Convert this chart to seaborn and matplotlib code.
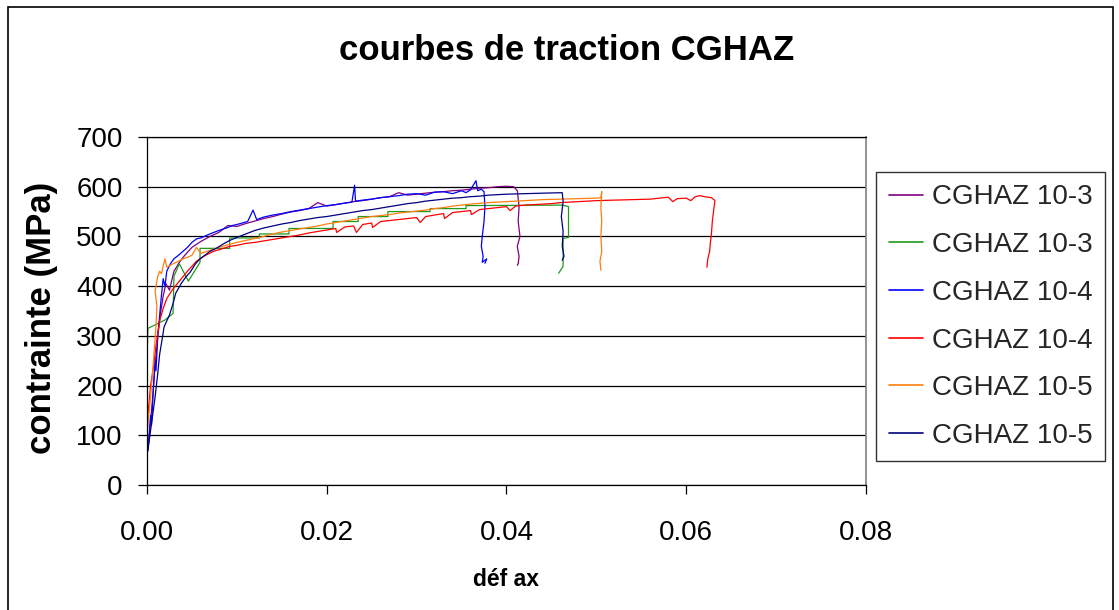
import matplotlib
matplotlib.use("Agg")
import matplotlib.pyplot as plt
import seaborn as sns
from matplotlib.patches import Rectangle

# ---- data: axial strain (-) vs stress (MPa) for each tensile test ----
labels = ["CGHAZ 10-3", "CGHAZ 10-3", "CGHAZ 10-4", "CGHAZ 10-4", "CGHAZ 10-5", "CGHAZ 10-5"]
colors = ["#800080", "#1f9a1f", "#0000ff", "#ff0000", "#ff7f0e", "#000080"]

strain_a = [0.0001, 0.0003, 0.0006, 0.0009, 0.0012, 0.0015, 0.0018, 0.0021, 0.0025, 0.0030,
            0.0036, 0.0042, 0.0050, 0.0060, 0.0070, 0.0080, 0.0090, 0.0100, 0.0110, 0.0120,
            0.0130, 0.0140, 0.0150, 0.0160, 0.0170, 0.0180, 0.0190, 0.0200, 0.0210, 0.0220,
            0.0230, 0.0240, 0.0250, 0.0260, 0.0270, 0.0280, 0.0290, 0.0300, 0.0310, 0.0320,
            0.0330, 0.0340, 0.0350, 0.0360, 0.0370, 0.0380, 0.0390, 0.0400, 0.0408, 0.0412,
            0.0414, 0.0413, 0.0415, 0.0412, 0.0414, 0.0413, 0.0412]
stress_a = [75, 110, 170, 240, 300, 345, 380, 405, 392, 430,
            448, 462, 478, 490, 500, 508, 522, 520, 526, 531,
            536, 540, 545, 549, 552, 556, 568, 561, 564, 567,
            570, 572, 575, 578, 580, 588, 583, 585, 587, 589,
            590, 592, 593, 595, 597, 598, 600, 601, 600, 592,
            560, 530, 500, 480, 460, 445, 442]

strain_b = [0.0000, 0.0000, 0.0001, 0.0020, 0.0029, 0.0030, 0.0036, 0.0046, 0.0059, 0.0059,
            0.0092, 0.0092, 0.0125, 0.0125, 0.0158, 0.0158, 0.0207, 0.0207, 0.0235, 0.0235,
            0.0268, 0.0268, 0.0315, 0.0315, 0.0355, 0.0355, 0.0462, 0.0469, 0.0469, 0.0463,
            0.0463, 0.0458]
stress_b = [130, 250, 315, 332, 345, 420, 445, 410, 448, 476,
            476, 497, 497, 505, 505, 516, 516, 530, 530, 540,
            540, 550, 550, 556, 556, 562, 563, 560, 498, 496,
            440, 426]

strain_c = [0.0001, 0.0002, 0.0004, 0.0005, 0.0007, 0.0009, 0.0010, 0.0012, 0.0014, 0.0016,
            0.0018, 0.0020, 0.0022, 0.0026, 0.0030, 0.0035, 0.0040, 0.0045, 0.0050, 0.0055,
            0.0060, 0.0070, 0.0080, 0.0090, 0.0095, 0.0100, 0.0112, 0.0118, 0.0122, 0.0130,
            0.0140, 0.0150, 0.0160, 0.0170, 0.0180, 0.0190, 0.0200, 0.0210, 0.0220, 0.0228,
            0.0231, 0.0232, 0.0240, 0.0250, 0.0260, 0.0270, 0.0280, 0.0290, 0.0300, 0.0310,
            0.0320, 0.0330, 0.0340, 0.0350, 0.0355, 0.0360, 0.0366, 0.0368, 0.0372, 0.0375,
            0.0376, 0.0375, 0.0373, 0.0372, 0.0374, 0.0373, 0.0378, 0.0376]
stress_c = [68, 90, 140, 120, 190, 250, 230, 300, 340, 380,
            415, 400, 430, 445, 455, 462, 470, 478, 488, 495,
            497, 505, 512, 518, 522, 524, 530, 553, 534, 539,
            543, 546, 550, 553, 556, 559, 562, 564, 567, 569,
            603, 571, 573, 575, 578, 580, 582, 585, 586, 583,
            589, 590, 586, 592, 588, 594, 612, 592, 595, 590,
            560, 530, 500, 480, 460, 448, 455, 446]

strain_d = [0.0000, 0.0002, 0.0004, 0.0007, 0.0010, 0.0014, 0.0018, 0.0022, 0.0028, 0.0036,
            0.0045, 0.0055, 0.0065, 0.0074, 0.0085, 0.0092, 0.0100, 0.0110, 0.0120, 0.0130,
            0.0140, 0.0150, 0.0160, 0.0170, 0.0180, 0.0190, 0.0200, 0.0210, 0.0211, 0.0220,
            0.0230, 0.0233, 0.0240, 0.0250, 0.0251, 0.0260, 0.0270, 0.0280, 0.0290, 0.0300,
            0.0304, 0.0310, 0.0320, 0.0330, 0.0331, 0.0340, 0.0350, 0.0360, 0.0361, 0.0370,
            0.0380, 0.0390, 0.0400, 0.0404, 0.0410, 0.0420, 0.0430, 0.0440, 0.0450, 0.0460,
            0.0470, 0.0480, 0.0490, 0.0500, 0.0520, 0.0540, 0.0560, 0.0580, 0.0585, 0.0590,
            0.0600, 0.0605, 0.0610, 0.0615, 0.0620, 0.0628, 0.0632, 0.0631, 0.0629, 0.0628,
            0.0627, 0.0626, 0.0624, 0.0623]
stress_d = [120, 160, 200, 235, 280, 330, 355, 375, 392, 410,
            430, 450, 462, 470, 476, 480, 482, 486, 488, 491,
            494, 497, 500, 503, 507, 510, 513, 516, 508, 519,
            521, 508, 524, 527, 518, 530, 532, 534, 536, 538,
            528, 540, 543, 546, 536, 548, 550, 552, 544, 554,
            556, 558, 560, 552, 561, 563, 564, 565, 566, 568,
            569, 570, 571, 572, 573, 574, 575, 579, 570, 576,
            577, 572, 580, 582, 580, 578, 572, 560, 530, 505,
            490, 470, 455, 438]

strain_e = [0.0000, 0.0002, 0.0004, 0.0006, 0.0008, 0.0010, 0.0011, 0.0009, 0.0012, 0.0014,
            0.0016, 0.0018, 0.0020, 0.0022, 0.0026, 0.0030, 0.0035, 0.0040, 0.0045, 0.0050,
            0.0055, 0.0060, 0.0070, 0.0080, 0.0090, 0.0100, 0.0110, 0.0120, 0.0130, 0.0140,
            0.0150, 0.0160, 0.0170, 0.0180, 0.0190, 0.0200, 0.0210, 0.0220, 0.0230, 0.0240,
            0.0250, 0.0260, 0.0270, 0.0280, 0.0290, 0.0300, 0.0310, 0.0320, 0.0330, 0.0340,
            0.0350, 0.0360, 0.0380, 0.0400, 0.0420, 0.0440, 0.0460, 0.0480, 0.0500, 0.0505,
            0.0506, 0.0505, 0.0506, 0.0505, 0.0506, 0.0504, 0.0505]
stress_e = [100, 140, 180, 220, 270, 320, 360, 390, 420, 430,
            425, 440, 455, 438, 442, 446, 450, 455, 458, 462,
            478, 466, 472, 478, 483, 488, 492, 496, 500, 505,
            509, 512, 515, 518, 521, 525, 528, 531, 534, 537,
            540, 542, 544, 547, 549, 551, 553, 556, 558, 561,
            563, 565, 568, 570, 572, 574, 575, 576, 577, 578,
            590, 560, 530, 500, 470, 450, 432]

strain_f = [0.0001, 0.0004, 0.0007, 0.0009, 0.0012, 0.0014, 0.0017, 0.0019, 0.0022, 0.0025,
            0.0029, 0.0032, 0.0038, 0.0043, 0.0048, 0.0054, 0.0059, 0.0065, 0.0070, 0.0077,
            0.0085, 0.0092, 0.0100, 0.0110, 0.0120, 0.0130, 0.0140, 0.0150, 0.0160, 0.0170,
            0.0180, 0.0190, 0.0200, 0.0210, 0.0220, 0.0230, 0.0240, 0.0250, 0.0260, 0.0270,
            0.0280, 0.0290, 0.0300, 0.0310, 0.0320, 0.0330, 0.0340, 0.0350, 0.0360, 0.0370,
            0.0380, 0.0390, 0.0400, 0.0420, 0.0440, 0.0462, 0.0463, 0.0461, 0.0463, 0.0462,
            0.0464, 0.0462]
stress_f = [70, 110, 150, 177, 225, 262, 295, 318, 330, 342,
            365, 386, 405, 418, 428, 445, 455, 463, 470, 476,
            485, 492, 498, 505, 512, 517, 521, 525, 528, 532,
            535, 538, 540, 543, 546, 549, 552, 554, 557, 560,
            563, 566, 568, 571, 573, 575, 577, 578, 580, 581,
            583, 584, 585, 586, 587, 588, 570, 540, 510, 480,
            460, 452]

series = [(strain_a, stress_a), (strain_b, stress_b), (strain_c, stress_c),
          (strain_d, stress_d), (strain_e, stress_e), (strain_f, stress_f)]

x_ticks = [0.00, 0.02, 0.04, 0.06, 0.08]
y_ticks = [0, 100, 200, 300, 400, 500, 600, 700]

# ---- figure ----
sns.set_theme(style="white")
plt.rcParams["font.family"] = ["Liberation Sans", "DejaVu Sans"]

W, H = 1119, 610
fig = plt.figure(figsize=(W / 100, H / 100), dpi=100)
fig.patch.set_facecolor("white")
ax = fig.add_axes([147 / W, 1 - 485 / H, (866 - 147) / W, (485 - 137) / H])
ax.set_facecolor("white")

for (sx, sy), lab, col in zip(series, labels, colors):
    sns.lineplot(x=sx, y=sy, sort=False, estimator=None, color=col,
                 linewidth=0.9, label=lab, ax=ax)

ax.set_xlim(0, 0.08)
ax.set_ylim(0, 700)
ax.set_xticks(x_ticks)
ax.set_xticklabels([f"{v:.2f}" for v in x_ticks])
ax.set_yticks(y_ticks)
ax.set_yticklabels([str(v) for v in y_ticks])

ax.yaxis.grid(True, color="black", linewidth=0.9)
ax.xaxis.grid(False)
ax.set_axisbelow(True)

for side in ["left", "bottom", "top"]:
    ax.spines[side].set_color("black")
    ax.spines[side].set_linewidth(0.9)
ax.spines["right"].set_color("#808080")
ax.spines["right"].set_linewidth(1.2)

ax.tick_params(axis="both", which="major", direction="out", length=6.5, width=0.9,
               color="black", labelsize=20, labelcolor="black")
ax.tick_params(axis="x", pad=19, bottom=True)
ax.tick_params(axis="y", pad=11, left=True)

ax.set_xlabel("")
ax.set_ylabel("")
fig.text(506 / W, 1 - 579 / H, "déf ax", ha="center", va="center",
         fontsize=16.5, fontweight="bold", color="black")
fig.text(42 / W, 1 - 318 / H, "contrainte (MPa)", ha="center", va="center",
         rotation=90, fontsize=25, fontweight="bold", color="black")
fig.text(567 / W, 1 - 51 / H, "courbes de traction CGHAZ", ha="center", va="center",
         fontsize=25, fontweight="bold", color="black")

leg = ax.legend(loc="upper left", bbox_to_anchor=(876 / W, 1 - 172 / H),
                bbox_transform=fig.transFigure, fontsize=20, frameon=True,
                fancybox=False, shadow=False, borderpad=0.45, labelspacing=0.78,
                handlelength=1.25, handletextpad=0.3, borderaxespad=0)
leg.get_frame().set_edgecolor("black")
leg.get_frame().set_linewidth(1.0)
for line in leg.get_lines():
    line.set_linewidth(1.2)

# chart frame around the whole figure
fig.add_artist(Rectangle((8 / W, -0.05), (1113 - 8) / W, 1.05 - 7 / H,
                         transform=fig.transFigure, fill=False,
                         edgecolor="black", linewidth=1.2, clip_on=False))

fig.savefig("out.png", dpi=100, facecolor="white")
